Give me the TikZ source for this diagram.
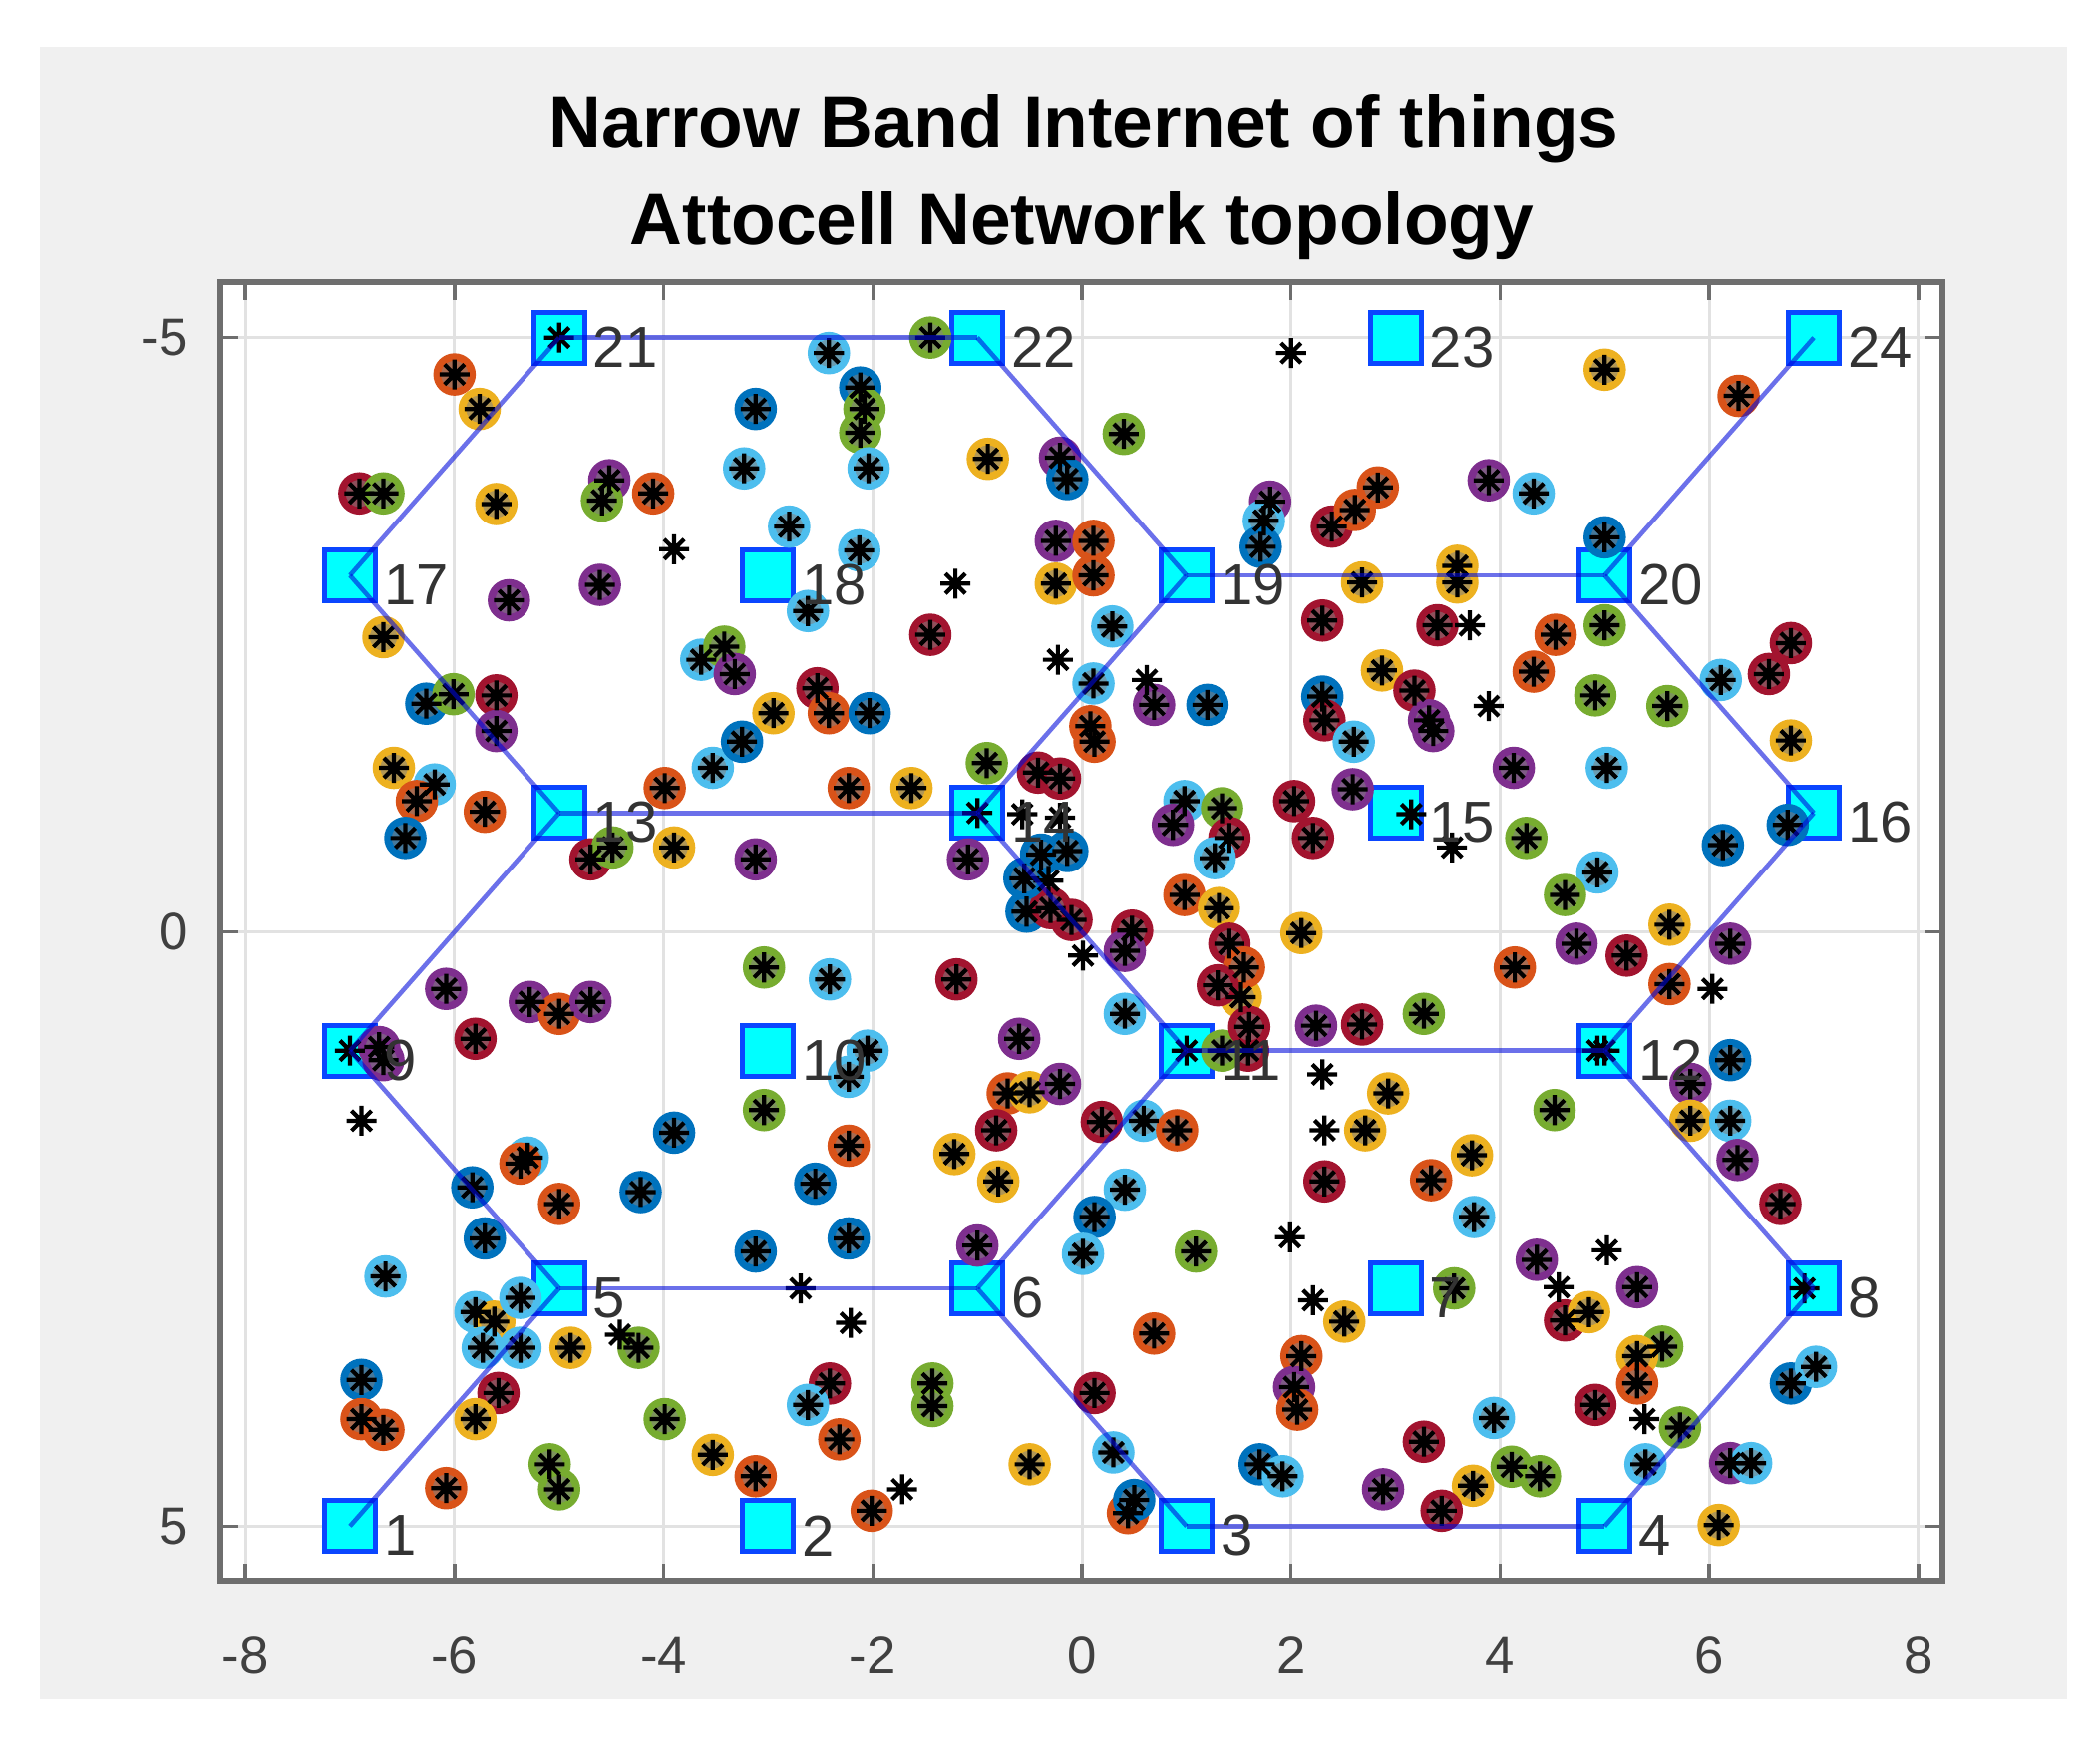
\documentclass[tikz,border=0pt]{standalone}
\usepackage{fontspec}
\setmainfont{Liberation Sans}
\definecolor{mbl}{RGB}{0,114,189}
\definecolor{mor}{RGB}{217,83,25}
\definecolor{mye}{RGB}{237,177,32}
\definecolor{mpu}{RGB}{126,47,142}
\definecolor{mgr}{RGB}{119,172,48}
\definecolor{mlb}{RGB}{77,190,238}
\definecolor{mdr}{RGB}{162,20,47}
\definecolor{figbg}{RGB}{240,240,240}
\definecolor{gridc}{RGB}{226,226,226}
\definecolor{axc}{RGB}{110,110,110}
\definecolor{sqedge}{RGB}{10,70,255}
\definecolor{sqfill}{RGB}{0,255,255}
\definecolor{linkc}{RGB}{0,10,220}
\tikzset{
  bs/.style={rectangle, minimum size=0.51cm, inner sep=0pt, fill=sqfill, draw=sqedge, line width=0.05cm},
  link/.style={draw=linkc, line width=0.045cm, opacity=0.58},
  bslabel/.style={anchor=west, inner sep=0pt, text=black!80, font=\fontsize{16.5pt}{18pt}\selectfont},
  ticklab/.style={inner sep=0pt, text=black!75, font=\fontsize{15pt}{17pt}\selectfont},
  titlelab/.style={inner sep=0pt, anchor=base, text=black, font=\fontsize{20.8pt}{25pt}\selectfont\bfseries},
  astk/.style={draw=black, line width=0.042cm},
}
\newcommand\ringpt[3]{\fill[#3!45!gray] (#1,#2) circle (0.16cm);
  \draw[#3, line width=0.075cm] (#1,#2) circle (0.175cm);}
\newcommand\astpt[2]{\draw[astk] (#1,#2) ++(-0.15cm,0) -- ++(0.30cm,0)
  (#1,#2) ++(0,-0.15cm) -- ++(0,0.30cm)
  (#1,#2) ++(-0.1cm,-0.1cm) -- ++(0.2cm,0.2cm)
  (#1,#2) ++(-0.1cm,0.1cm) -- ++(0.2cm,-0.2cm);
  \fill[black] (#1,#2) circle (0.06cm);}
\begin{document}
\begin{tikzpicture}[x=0.01cm, y=-0.01cm]
\useasboundingbox (0,0) rectangle (2106,1746);
\fill[figbg] (40,47) rectangle (2073,1704);
\fill[white] (221.7,283) rectangle (1948,1586);
% title
\node[titlelab] (t1) at (1087,148) {Narrow Band Internet of things};
\node[titlelab] (t2) at (1085,246) {Attocell Network topology};
\begin{scope}[shift={(1085,934.5)}, x=1.048cm, y=-1.191cm]
  % grid
  \foreach \gx in {-8,-6,...,8} \draw[gridc, line width=0.03cm] (\gx,-5.47) -- (\gx,5.47);
  \foreach \gy in {-5,0,5} \draw[gridc, line width=0.03cm] (-8.24,\gy) -- (8.23,\gy);
  % ticks
  \foreach \gx in {-8,-6,...,8} {
    \draw[axc, line width=0.035cm] (\gx,5.47) -- ++(0,0.18cm);
    \draw[axc, line width=0.035cm] (\gx,-5.47) -- ++(0,-0.18cm);
    \node[ticklab, anchor=base] (xt\gx) at (\gx,6.24) {\gx};
  }
  \foreach \gy in {-5,0,5} {
    \draw[axc, line width=0.035cm] (-8.24,\gy) -- ++(0.18cm,0);
    \draw[axc, line width=0.035cm] (8.23,\gy) -- ++(-0.18cm,0);
    \node[ticklab, anchor=east] (yt\gy) at (-8.54,\gy) {\gy};
  }
  \draw[axc, line width=0.06cm] (-8.24,-5.47) rectangle (8.23,5.47);
  % base stations
  \foreach \n/\bx/\by in {1/-7/5,2/-3/5,3/1/5,4/5/5,5/-5/3,6/-1/3,7/3/3,8/7/3,
    9/-7/1,10/-3/1,11/1/1,12/5/1,13/-5/-1,14/-1/-1,15/3/-1,16/7/-1,
    17/-7/-3,18/-3/-3,19/1/-3,20/5/-3,21/-5/-5,22/-1/-5,23/3/-5,24/7/-5} {
    \node[bs] (s\n) at (\bx,\by) {};
  }
  % user points with coloured rings
  \foreach \px/\py/\pc in {
    -6.00/-4.69/mor, -5.76/-4.40/mye, -3.12/-4.40/mbl, -3.23/-3.90/mlb, -6.91/-3.69/mdr,
    -6.68/-3.69/mgr, -5.60/-3.60/mye, -4.52/-3.80/mpu, -4.59/-3.63/mgr, -4.10/-3.69/mor,
    -2.80/-3.41/mlb, -5.48/-2.79/mpu, -4.61/-2.92/mpu, -6.68/-2.48/mye, -3.64/-2.29/mlb,
    -3.42/-2.40/mgr, -3.32/-2.17/mpu, -2.95/-1.84/mye, -6.27/-1.92/mbl, -6.01/-2.00/mgr,
    -5.60/-1.99/mdr, -2.62/-2.70/mlb,
    -2.42/-4.87/mlb, -1.45/-5.00/mgr, -2.12/-4.58/mbl, -2.08/-4.40/mgr, -2.12/-4.20/mgr,
    -2.04/-3.90/mlb, -0.90/-3.98/mye, -0.21/-3.99/mpu, -0.14/-3.81/mbl, 0.40/-4.19/mgr,
    1.80/-3.62/mpu, 1.74/-3.46/mlb, 1.71/-3.24/mbl, 2.39/-3.41/mdr, 2.61/-3.55/mor,
    2.83/-3.74/mor, -0.25/-3.29/mpu, 0.11/-3.29/mor, -0.25/-2.93/mye, 0.11/-3.00/mor,
    0.29/-2.57/mlb, -1.45/-2.50/mdr, -2.13/-3.21/mlb, 2.68/-2.94/mye, 2.30/-2.62/mdr,
    2.87/-2.20/mye, 0.11/-2.09/mlb, 0.69/-1.91/mpu, 1.20/-1.91/mbl, 2.30/-1.98/mbl,
    2.32/-1.78/mdr, -2.53/-2.05/mdr, -2.42/-1.84/mor, -2.03/-1.84/mbl, 0.08/-1.73/mor,
    5.00/-4.73/mye, 6.28/-4.51/mor, 3.89/-3.80/mpu, 4.32/-3.69/mlb, 5.00/-3.32/mbl,
    3.59/-3.08/mye, 3.59/-2.94/mye, 3.40/-2.58/mdr, 4.53/-2.50/mor, 5.00/-2.58/mgr,
    4.32/-2.19/mor, 3.18/-2.03/mdr, 3.32/-1.78/mpu, 4.91/-1.99/mgr, 5.60/-1.90/mgr,
    6.11/-2.12/mlb, 6.78/-2.43/mdr, 6.57/-2.17/mdr, 6.78/-1.61/mye,
    -5.60/-1.69/mpu, -6.58/-1.38/mye, -6.19/-1.24/mlb, -6.36/-1.10/mor, -6.47/-0.79/mbl,
    -5.71/-1.01/mor, -3.99/-1.21/mor, -3.53/-1.38/mlb, -3.25/-1.60/mbl, -4.70/-0.61/mdr,
    -4.49/-0.71/mgr, -3.90/-0.71/mye, -3.12/-0.61/mpu, -3.04/0.30/mgr, -6.08/0.48/mpu,
    -5.80/0.90/mdr, -5.28/0.59/mpu, -5.00/0.69/mor, -4.70/0.59/mpu, -6.72/0.97/mpu,
    -6.68/1.08/mpu, -3.04/1.50/mgr, -3.90/1.69/mbl, -5.30/1.90/mlb,
    -2.23/-1.21/mor, -1.63/-1.21/mye, -0.91/-1.42/mgr, 0.12/-1.60/mor, -0.42/-1.34/mdr,
    -0.21/-1.29/mdr, -1.09/-0.61/mpu, -0.39/-0.65/mbl, -0.14/-0.68/mbl, -0.53/-0.17/mbl,
    -0.10/-0.10/mdr, 0.48/-0.01/mdr, 0.41/0.16/mpu, 0.41/0.69/mlb, 0.98/-1.10/mlb,
    0.87/-0.90/mpu, 1.34/-1.04/mgr, 1.41/-0.79/mdr, 1.27/-0.62/mlb, 0.98/-0.31/mor,
    1.31/-0.20/mye, 1.41/0.10/mdr, 1.52/0.55/mye, 2.10/0.01/mye, 2.03/-1.10/mdr,
    2.21/-0.79/mdr, 2.59/-1.20/mpu, 2.60/-1.60/mlb, -2.41/0.40/mlb, -1.20/0.40/mdr,
    -0.60/0.90/mpu, -2.05/1.00/mlb, -2.23/1.22/mlb, 1.59/1.00/mdr, 1.34/1.00/mgr,
    2.24/0.79/mpu, 2.68/0.78/mdr, 2.71/1.67/mye, -0.71/1.36/mor, -0.50/1.35/mye,
    -0.21/1.28/mpu, -0.82/1.67/mdr, -1.22/1.87/mye, 0.19/1.60/mdr, 0.59/1.59/mlb,
    0.91/1.67/mor, -2.23/1.80/mor, 2.93/1.36/mye,
    1.60/0.80/mdr, 1.55/0.30/mor, 1.30/0.45/mdr, -0.30/-0.20/mdr, -0.55/-0.45/mbl,
    3.36/-1.69/mpu, 4.13/-1.38/mpu, 5.02/-1.38/mlb, 4.25/-0.79/mgr, 4.93/-0.50/mlb,
    4.62/-0.31/mgr, 6.13/-0.73/mbl, 6.75/-0.90/mbl, 4.73/0.10/mpu, 5.21/0.20/mdr,
    5.62/-0.06/mye, 5.62/0.44/mor, 6.20/0.10/mpu, 4.14/0.30/mor, 3.27/0.69/mgr,
    6.20/1.08/mbl, 5.82/1.28/mpu, 5.82/1.59/mye, 6.20/1.59/mlb, 4.52/1.50/mgr,
    3.73/1.88/mye, 6.27/1.92/mpu,
    -5.83/2.15/mbl, -5.37/1.95/mor, -5.00/2.29/mor, -4.22/2.19/mbl, -5.71/2.58/mbl,
    -3.12/2.69/mbl, -6.66/2.90/mlb, -5.80/3.20/mlb, -5.62/3.28/mye, -5.37/3.08/mlb,
    -5.73/3.50/mlb, -5.37/3.50/mlb, -4.89/3.50/mye, -4.24/3.50/mgr, -6.89/3.77/mbl,
    -6.89/4.10/mor, -6.68/4.19/mor, -5.58/3.88/mdr, -5.80/4.10/mye, -3.99/4.10/mgr,
    -5.09/4.48/mgr, -5.00/4.69/mgr, -3.53/4.40/mye, -3.12/4.58/mor, -6.08/4.68/mor,
    -2.55/2.12/mbl, -0.80/2.10/mye, -2.23/2.58/mbl, -1.00/2.64/mpu, 0.41/2.17/mlb,
    0.12/2.40/mbl, 0.01/2.71/mlb, 1.09/2.69/mgr, 2.51/3.28/mye, 0.69/3.38/mor,
    -2.41/3.80/mdr, -2.62/3.98/mlb, -2.32/4.27/mor, -1.43/3.80/mgr, -1.43/3.99/mgr,
    0.12/3.88/mdr, 2.10/3.57/mor, 2.03/3.83/mpu, 2.06/4.02/mor, -0.50/4.48/mye,
    0.30/4.38/mlb, 1.70/4.48/mbl, 1.92/4.58/mlb, -2.01/4.87/mor, 0.44/4.89/mor,
    0.50/4.78/mbl, 2.32/2.10/mdr,
    3.34/2.09/mor, 3.75/2.40/mlb, 6.68/2.29/mdr, 4.35/2.76/mpu, 5.31/2.99/mpu,
    4.62/3.27/mdr, 4.85/3.20/mye, 3.56/3.00/mgr, 5.55/3.49/mgr, 5.31/3.57/mye,
    5.31/3.80/mor, 4.91/3.98/mdr, 5.72/4.17/mgr, 5.39/4.48/mlb, 6.78/3.80/mbl,
    7.02/3.66/mlb, 3.94/4.09/mlb, 3.27/4.29/mdr, 4.11/4.50/mgr, 4.38/4.58/mgr,
    3.74/4.66/mye, 3.44/4.87/mdr, 2.88/4.69/mpu, 6.20/4.47/mpu, 6.40/4.47/mlb,
    6.09/4.99/mye} {
    \ringpt{\px}{\py}{\pc}
  }
  % asterisks (all users)
  \foreach \px/\py in {
    -6.00/-4.69, -5.76/-4.40, -3.12/-4.40, -3.23/-3.90, -6.91/-3.69,
    -6.68/-3.69, -5.60/-3.60, -4.52/-3.80, -4.59/-3.63, -4.10/-3.69,
    -2.80/-3.41, -5.48/-2.79, -4.61/-2.92, -6.68/-2.48, -3.64/-2.29,
    -3.42/-2.40, -3.32/-2.17, -2.95/-1.84, -6.27/-1.92, -6.01/-2.00,
    -5.60/-1.99, -2.62/-2.70,
    -2.42/-4.87, -1.45/-5.00, -2.12/-4.58, -2.08/-4.40, -2.12/-4.20,
    -2.04/-3.90, -0.90/-3.98, -0.21/-3.99, -0.14/-3.81, 0.40/-4.19,
    1.80/-3.62, 1.74/-3.46, 1.71/-3.24, 2.39/-3.41, 2.61/-3.55,
    2.83/-3.74, -0.25/-3.29, 0.11/-3.29, -0.25/-2.93, 0.11/-3.00,
    0.29/-2.57, -1.45/-2.50, -2.13/-3.21, 2.68/-2.94, 2.30/-2.62,
    2.87/-2.20, 0.11/-2.09, 0.69/-1.91, 1.20/-1.91, 2.30/-1.98,
    2.32/-1.78, -2.53/-2.05, -2.42/-1.84, -2.03/-1.84, 0.08/-1.73,
    5.00/-4.73, 6.28/-4.51, 3.89/-3.80, 4.32/-3.69, 5.00/-3.32,
    3.59/-3.08, 3.59/-2.94, 3.40/-2.58, 4.53/-2.50, 5.00/-2.58,
    4.32/-2.19, 3.18/-2.03, 3.32/-1.78, 4.91/-1.99, 5.60/-1.90,
    6.11/-2.12, 6.78/-2.43, 6.57/-2.17, 6.78/-1.61,
    -5.60/-1.69, -6.58/-1.38, -6.19/-1.24, -6.36/-1.10, -6.47/-0.79,
    -5.71/-1.01, -3.99/-1.21, -3.53/-1.38, -3.25/-1.60, -4.70/-0.61,
    -4.49/-0.71, -3.90/-0.71, -3.12/-0.61, -3.04/0.30, -6.08/0.48,
    -5.80/0.90, -5.28/0.59, -5.00/0.69, -4.70/0.59, -6.72/0.97,
    -6.68/1.08, -3.04/1.50, -3.90/1.69, -5.30/1.90,
    -2.23/-1.21, -1.63/-1.21, -0.91/-1.42, 0.12/-1.60, -0.42/-1.34,
    -0.21/-1.29, -1.09/-0.61, -0.39/-0.65, -0.14/-0.68, -0.53/-0.17,
    -0.10/-0.10, 0.48/-0.01, 0.41/0.16, 0.41/0.69, 0.98/-1.10,
    0.87/-0.90, 1.34/-1.04, 1.41/-0.79, 1.27/-0.62, 0.98/-0.31,
    1.31/-0.20, 1.41/0.10, 1.52/0.55, 2.10/0.01, 2.03/-1.10,
    2.21/-0.79, 2.59/-1.20, 2.60/-1.60, -2.41/0.40, -1.20/0.40,
    -0.60/0.90, -2.05/1.00, -2.23/1.22, 1.59/1.00, 1.34/1.00,
    2.24/0.79, 2.68/0.78, 2.71/1.67, -0.71/1.36, -0.50/1.35,
    -0.21/1.28, -0.82/1.67, -1.22/1.87, 0.19/1.60, 0.59/1.59,
    0.91/1.67, -2.23/1.80, 2.93/1.36,
    1.60/0.80, 1.55/0.30, 1.30/0.45, -0.30/-0.20, -0.55/-0.45,
    3.36/-1.69, 4.13/-1.38, 5.02/-1.38, 4.25/-0.79, 4.93/-0.50,
    4.62/-0.31, 6.13/-0.73, 6.75/-0.90, 4.73/0.10, 5.21/0.20,
    5.62/-0.06, 5.62/0.44, 6.20/0.10, 4.14/0.30, 3.27/0.69,
    6.20/1.08, 5.82/1.28, 5.82/1.59, 6.20/1.59, 4.52/1.50,
    3.73/1.88, 6.27/1.92,
    -5.83/2.15, -5.37/1.95, -5.00/2.29, -4.22/2.19, -5.71/2.58,
    -3.12/2.69, -6.66/2.90, -5.80/3.20, -5.62/3.28, -5.37/3.08,
    -5.73/3.50, -5.37/3.50, -4.89/3.50, -4.24/3.50, -6.89/3.77,
    -6.89/4.10, -6.68/4.19, -5.58/3.88, -5.80/4.10, -3.99/4.10,
    -5.09/4.48, -5.00/4.69, -3.53/4.40, -3.12/4.58, -6.08/4.68,
    -2.55/2.12, -0.80/2.10, -2.23/2.58, -1.00/2.64, 0.41/2.17,
    0.12/2.40, 0.01/2.71, 1.09/2.69, 2.51/3.28, 0.69/3.38,
    -2.41/3.80, -2.62/3.98, -2.32/4.27, -1.43/3.80, -1.43/3.99,
    0.12/3.88, 2.10/3.57, 2.03/3.83, 2.06/4.02, -0.50/4.48,
    0.30/4.38, 1.70/4.48, 1.92/4.58, -2.01/4.87, 0.44/4.89,
    0.50/4.78, 2.32/2.10,
    3.34/2.09, 3.75/2.40, 6.68/2.29, 4.35/2.76, 5.31/2.99,
    4.62/3.27, 4.85/3.20, 3.56/3.00, 5.55/3.49, 5.31/3.57,
    5.31/3.80, 4.91/3.98, 5.72/4.17, 5.39/4.48, 6.78/3.80,
    7.02/3.66, 3.94/4.09, 3.27/4.29, 4.11/4.50, 4.38/4.58,
    3.74/4.66, 3.44/4.87, 2.88/4.69, 6.20/4.47, 6.40/4.47,
    6.09/4.99,
    % asterisk-only users
    -3.90/-3.22, 2.00/-4.87, -1.21/-2.93, -0.23/-2.29, 0.62/-2.12,
    3.71/-2.58, 3.89/-1.90, -6.89/1.59, -0.57/-0.99, -0.21/-0.96,
    -0.32/-0.43, 0.01/0.20, 2.30/1.20, 2.32/1.67, 3.15/-0.99,
    3.54/-0.71, 6.03/0.48, 4.93/1.00, -4.42/3.39, -2.69/3.00,
    1.99/2.57, 2.21/3.10, -2.21/3.29, -1.72/4.69, 4.56/2.99,
    5.02/2.68, 5.38/4.10, 6.91/3.00, -5.00/-5.00, -1.00/-1.00,
    1.00/1.00, 5.00/1.00, -7.00/1.00} {
    \astpt{\px}{\py}
  }
  % connectors
  \foreach \a/\b in {1/5,5/6,6/3,3/4,4/8,8/12,12/11,11/6,5/9,9/13,13/14,14/11,
    12/16,16/20,20/19,19/14,13/17,17/21,21/22,22/19,20/24} {
    \draw[link] (s\a.center) -- (s\b.center);
  }
  % labels
  \foreach \n/\bx/\by in {1/-7/5,2/-3/5,3/1/5,4/5/5,5/-5/3,6/-1/3,7/3/3,8/7/3,
    9/-7/1,10/-3/1,11/1/1,12/5/1,13/-5/-1,14/-1/-1,15/3/-1,16/7/-1,
    17/-7/-3,18/-3/-3,19/1/-3,20/5/-3,21/-5/-5,22/-1/-5,23/3/-5,24/7/-5} {
    \node[bslabel] (l\n) at (\bx+0.32,\by+0.08) {\n};
  }
\end{scope}
\end{tikzpicture}
\end{document}
